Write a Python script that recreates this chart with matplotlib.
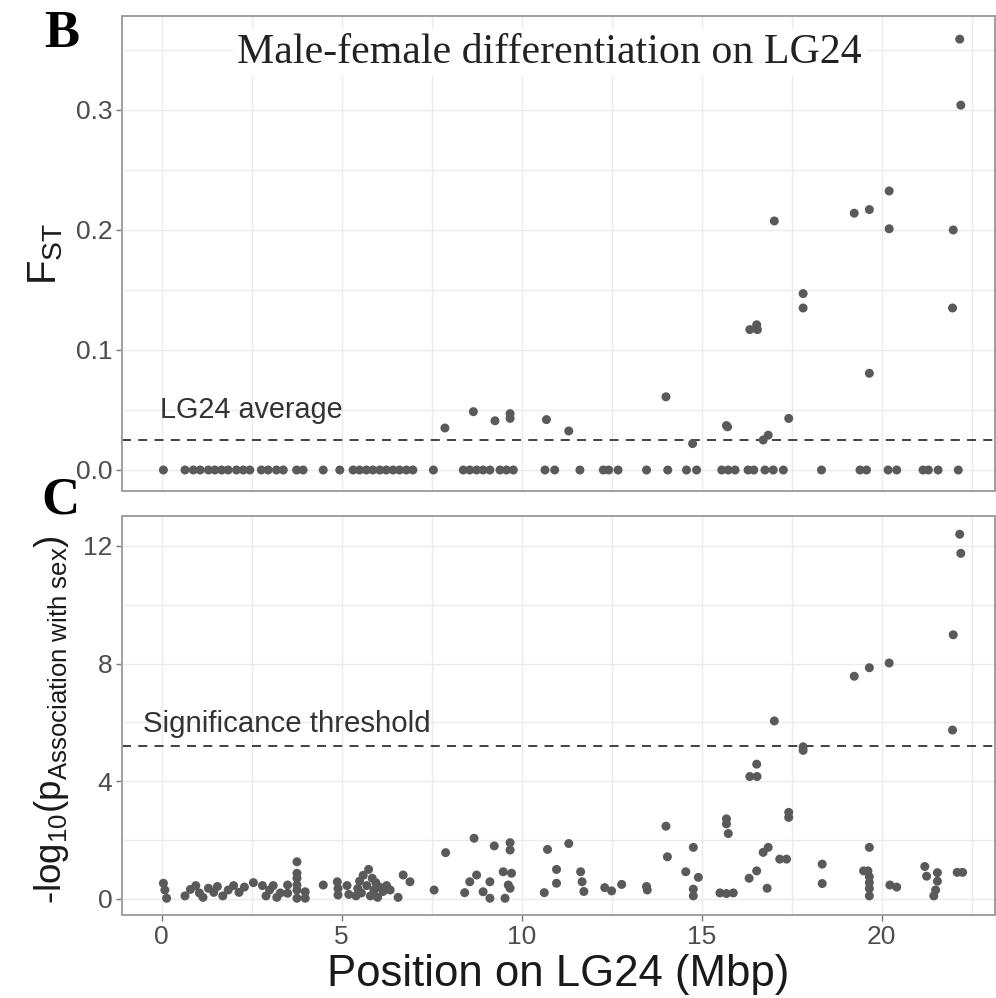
import matplotlib
matplotlib.use("Agg")
import matplotlib.pyplot as plt

# ---------------- data ----------------
fst_pos = [0.05, 0.65, 0.88, 1.07, 1.3, 1.48, 1.67, 1.85, 2.08, 2.27, 2.45,
           2.77, 2.96, 3.19, 3.38, 3.75, 3.93, 4.49, 4.95,
           5.32, 5.5, 5.69, 5.87, 6.06, 6.24, 6.43, 6.61, 6.8, 6.98, 7.55,
           8.38, 8.56, 8.75, 8.93, 9.12, 9.4, 9.58, 9.77, 10.65, 10.92,
           11.62, 12.27, 12.42, 12.68, 13.47, 14.06, 14.58, 14.86,
           15.56, 15.74, 15.93, 16.29, 16.45, 16.76, 16.99, 17.27, 18.33,
           19.4, 19.58, 20.18, 20.42, 21.15, 21.3, 21.57, 22.13,
           7.87, 8.66, 9.26, 9.68, 9.68, 10.69, 11.31, 14.01, 14.75,
           15.69, 15.72, 16.34, 16.53, 16.55, 16.71, 16.85, 17.02, 17.42,
           17.82, 17.82, 19.24, 19.66, 19.66, 20.21, 20.21, 21.97, 21.99,
           22.17, 22.2]
fst_val = [0.0] * 65 + [
           0.035, 0.0486, 0.041, 0.047, 0.043, 0.042, 0.0325, 0.061, 0.022,
           0.037, 0.036, 0.117, 0.121, 0.117, 0.025, 0.029, 0.2075, 0.043,
           0.147, 0.135, 0.214, 0.217, 0.0806, 0.2325, 0.201, 0.135, 0.200,
           0.359, 0.304]

assoc_pos = [0.05, 0.09, 0.14,
             0.65, 0.8, 0.95, 1.05, 1.15, 1.3, 1.45, 1.55, 1.7, 1.85, 2.0, 2.15, 2.3, 2.55,
             2.8, 2.9, 3.0, 3.1, 3.2, 3.3,
             3.5, 3.5, 3.76, 3.76, 3.76, 3.76, 3.76, 3.76, 3.99, 3.99,
             4.49, 4.88, 4.9, 4.9, 5.15, 5.2,
             5.4, 5.45, 5.5, 5.55, 5.6, 5.7, 5.75, 5.8, 5.85, 5.9, 5.95, 6.0, 6.05, 6.15, 6.25, 6.35,
             6.57, 6.71, 6.9, 7.57, 7.89,
             8.42, 8.56, 8.68, 8.75, 8.93, 9.12, 9.12, 9.24,
             9.49, 9.54, 9.63, 9.68, 9.68, 9.68, 9.72,
             10.63, 10.72, 10.97, 10.97,
             11.31, 11.64, 11.68, 11.73,
             12.31, 12.5, 12.78, 13.47, 13.49,
             14.01, 14.05, 14.56, 14.77, 14.91, 14.77, 14.77,
             15.51, 15.69, 15.88, 15.69, 15.69, 15.74,
             16.32, 16.53, 16.34, 16.54, 16.53, 16.71, 16.85, 16.82,
             17.02, 17.17, 17.36, 17.42, 17.42, 17.82, 17.82,
             18.35, 18.35,
             19.24, 19.66, 19.66, 19.5, 19.62, 19.66, 19.66, 19.66, 19.66,
             20.21, 20.23, 20.42,
             21.2, 21.25, 21.55, 21.55, 21.5, 21.45,
             21.97, 21.99, 22.17, 22.2, 22.1, 22.25]
assoc_logp = [0.53, 0.30, 0.02,
              0.10, 0.32, 0.45, 0.20, 0.05, 0.36, 0.22, 0.42, 0.10, 0.30, 0.45, 0.22, 0.40, 0.55,
              0.45, 0.10, 0.30, 0.45, 0.05, 0.20,
              0.47, 0.19, 1.26, 0.87, 0.70, 0.47, 0.30, 0.02, 0.24, 0.02,
              0.47, 0.58, 0.35, 0.13, 0.45, 0.15,
              0.10, 0.35, 0.60, 0.20, 0.80, 0.45, 1.00, 0.10, 0.70, 0.30, 0.55, 0.05, 0.40, 0.25, 0.45, 0.30,
              0.05, 0.81, 0.58, 0.30, 1.57,
              0.21, 0.58, 2.06, 0.81, 0.24, 0.58, 0.02, 1.80,
              0.92, 0.02, 0.47, 0.36, 1.91, 1.66, 0.87,
              0.21, 1.68, 1.00, 0.53,
              1.88, 0.92, 0.58, 0.25,
              0.38, 0.27, 0.49, 0.42, 0.30,
              2.47, 1.43, 0.92, 1.75, 0.73, 0.33, 0.10,
              0.20, 0.18, 0.20, 2.72, 2.55, 2.22,
              0.70, 0.95, 4.16, 4.16, 4.58, 1.58, 1.75, 0.36,
              6.05, 1.35, 1.35, 2.94, 2.77, 5.17, 5.05,
              1.18, 0.52,
              7.57, 7.86, 1.75, 0.95, 0.95, 0.75, 0.55, 0.35, 0.10,
              8.02, 0.47, 0.40,
              1.10, 0.77, 0.89, 0.60, 0.30, 0.10,
              5.74, 8.98, 12.40, 11.75, 0.90, 0.90]

fst_average = 0.025
sig_threshold = 5.2

x_ticks = [0, 5, 10, 15, 20]
fst_ticks = [0.0, 0.1, 0.2, 0.3]
fst_ticklabels = ["0.0", "0.1", "0.2", "0.3"]
logp_ticks = [0, 4, 8, 12]

# ---------------- style ----------------
plt.rcParams['font.family'] = ['Liberation Sans', 'DejaVu Sans']
plt.rcParams['mathtext.fontset'] = 'custom'
plt.rcParams['mathtext.rm'] = 'Liberation Sans'
plt.rcParams['mathtext.it'] = 'Liberation Sans:italic'
plt.rcParams['mathtext.bf'] = 'Liberation Sans:bold'

W, H = 996, 998
fig = plt.figure(figsize=(W / 100, H / 100), dpi=100)
fig.patch.set_facecolor('white')

def px_axes(left, top, right, bottom):
    return fig.add_axes([left / W, 1 - bottom / H, (right - left) / W, (bottom - top) / H])

ax1 = px_axes(122, 16, 995, 491)
ax2 = px_axes(122, 516, 995, 915)

pt_color = '#5a5a5a'
grid_color = '#ebebeb'
spine_color = '#a0a0a0'
tick_color = '#4d4d4d'

for ax in (ax1, ax2):
    ax.set_xlim(-1.1, 23.15)
    ax.set_xticks(x_ticks)
    ax.set_xticks([2.5, 7.5, 12.5, 17.5, 22.5], minor=True)
    ax.grid(True, which='both', color=grid_color, lw=1.0)
    ax.set_axisbelow(True)
    for s in ax.spines.values():
        s.set_color(spine_color)
        s.set_linewidth(1.4)
    ax.tick_params(which='major', length=4, width=1, color='#777777',
                   labelsize=19, labelcolor=tick_color, pad=3)
    ax.tick_params(which='minor', length=0)

# ---- top panel: FST ----
ax1.scatter(fst_pos, fst_val, s=42, color=pt_color, edgecolors='none', zorder=3)
ax1.axhline(fst_average, color='#333333', lw=1.3, ls=(0, (5, 4)), zorder=2)
ax1.set_ylim(-0.0175, 0.3783)
ax1.set_yticks(fst_ticks)
ax1.set_yticklabels(fst_ticklabels)
ax1.set_yticks([0.05, 0.15, 0.25, 0.35], minor=True)
ax1.tick_params(axis='x', labelbottom=False, length=0)
ax1.set_ylabel(r'F$_{\mathrm{ST}}$', fontsize=29, color='#1a1a1a', labelpad=8)
ax1.text(-0.05, 0.05, 'LG24 average', fontsize=20.7, color='#333333',
         ha='left', va='center', zorder=4)
ax1.text(10.78, 0.348, 'Male-female differentiation on LG24', fontsize=30.2,
         family=['Liberation Serif', 'DejaVu Serif'], color='#222222',
         ha='center', va='center', zorder=4,
         bbox=dict(facecolor='white', edgecolor='none', pad=3))

# ---- bottom panel: association ----
ax2.scatter(assoc_pos, assoc_logp, s=42, color=pt_color, edgecolors='none', zorder=3)
ax2.axhline(sig_threshold, color='#333333', lw=1.3, ls=(0, (5, 4)), zorder=2)
ax2.set_ylim(-0.55, 13.02)
ax2.set_yticks(logp_ticks)
ax2.set_yticks([2, 6, 10], minor=True)
ax2.set_ylabel(r'-log$_{\mathrm{10}}$(p$_{\mathrm{Association\ with\ sex}}$)',
               fontsize=26.5, color='#1a1a1a')
ax2.yaxis.set_label_coords(-0.058, 0.49)
ax2.set_xlabel('Position on LG24 (Mbp)', fontsize=31.5, color='#1a1a1a', labelpad=4)
ax2.text(-0.52, 5.95, 'Significance threshold', fontsize=21.2, color='#333333',
         ha='left', va='center', zorder=4)

# panel letters
fig.text(62 / W, 1 - 34 / H, 'B', fontsize=38, fontweight='bold',
         family=['Liberation Serif', 'DejaVu Serif'], ha='center', va='center')
fig.text(60 / W, 1 - 500 / H, 'C', fontsize=38, fontweight='bold',
         family=['Liberation Serif', 'DejaVu Serif'], ha='center', va='center')

fig.savefig('out.png', dpi=100, facecolor='white')
